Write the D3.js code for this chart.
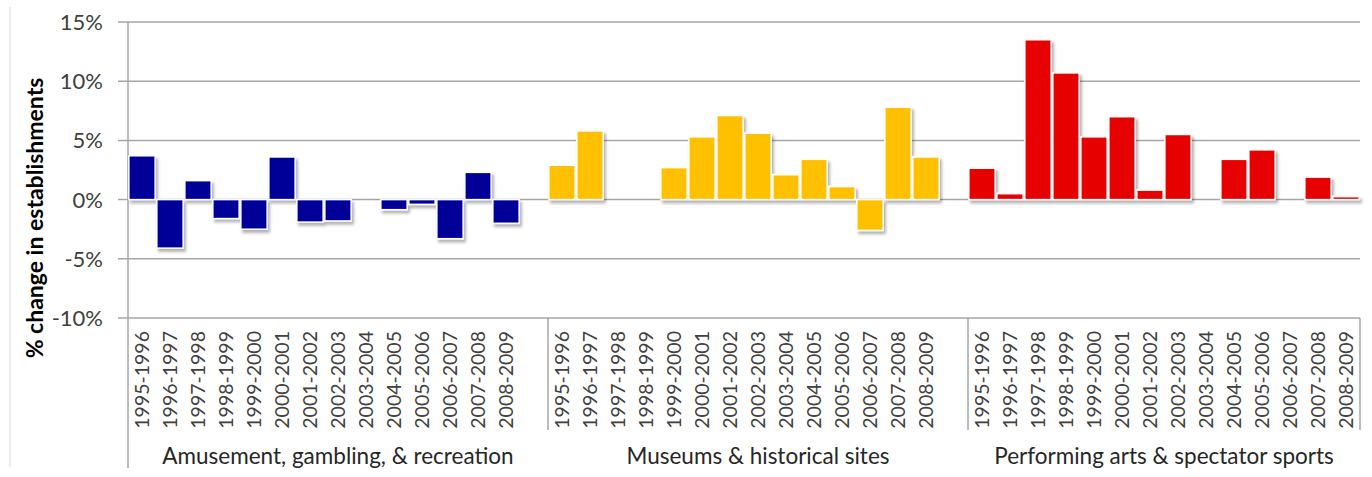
<!DOCTYPE html>
<html>
<head>
<meta charset="utf-8">
<script src="https://cdn.jsdelivr.net/npm/d3@7"></script>
<style>
  body { margin: 0; background: #fff; }
  text { font-family: Lato, "Open Sans", sans-serif; }
</style>
</head>
<body>
<div id="chart"></div>
<script>
// categories
var groups = ["Amusement, gambling, & recreation", "Museums & historical sites", "Performing arts & spectator sports"];
var periods = ["1995-1996", "1996-1997", "1997-1998", "1998-1999", "1999-2000", "2000-2001", "2001-2002",
               "2002-2003", "2003-2004", "2004-2005", "2005-2006", "2006-2007", "2007-2008", "2008-2009"];

// % change in establishments
var amusement  = [3.7, -4.1, 1.6, -1.6, -2.5, 3.6, -1.9, -1.8, 0, -0.85, -0.4, -3.3, 2.3, -2.0];
var museums    = [2.9, 5.8, 0, 0, 2.7, 5.3, 7.1, 5.6, 2.1, 3.4, 1.1, -2.6, 7.8, 3.6];
var performing = [2.65, 0.5, 13.5, 10.7, 5.3, 7.0, 0.8, 5.5, 0, 3.4, 4.2, 0, 1.9, 0.25];

var yTicks = [-10, -5, 0, 5, 10, 15];
var colors = ["#000099", "#FFC000", "#E60000"];

var width = 1372, height = 477;
var plotLeft = 128, plotRight = 1360, plotTop = 22, plotBottom = 318;

var series = [amusement, museums, performing];

// one slot per period, plus an empty slot after each group except the last
var slots = [];
groups.forEach(function(g, gi) {
    periods.forEach(function(p, pi) {
        slots.push({key: gi + "|" + p, group: gi, period: p, value: series[gi][pi]});
    });
    if (gi < groups.length - 1) slots.push({key: gi + "|blank", group: gi, period: null, value: null});
});

var x = d3.scaleBand()
    .domain(slots.map(function(d) { return d.key; }))
    .range([plotLeft, plotRight])
    .paddingInner(0.06)
    .paddingOuter(0.03);

var step = x.step();
function slotStart(k) { return x(k) - (step - x.bandwidth()) / 2; }

var y = d3.scaleLinear().domain([-10, 15]).range([plotBottom, plotTop]);

var svg = d3.select("#chart").append("svg")
    .attr("width", width)
    .attr("height", height);

var defs = svg.append("defs");
var f = defs.append("filter").attr("id", "shadow")
    .attr("x", "-20%").attr("y", "-20%").attr("width", "150%").attr("height", "150%");
f.append("feDropShadow")
    .attr("dx", 2).attr("dy", 3)
    .attr("stdDeviation", 1.8)
    .attr("flood-color", "#000")
    .attr("flood-opacity", 0.3);

// chart area border fragment on the left
svg.append("line")
    .attr("x1", 10).attr("x2", 10)
    .attr("y1", 7).attr("y2", 467)
    .attr("stroke", "#d9d9d9").attr("stroke-width", 1);

// gridlines + ticks
svg.append("g").selectAll("line")
    .data(yTicks)
    .enter().append("line")
    .attr("x1", plotLeft - 10)
    .attr("x2", plotRight)
    .attr("y1", function(d) { return y(d); })
    .attr("y2", function(d) { return y(d); })
    .attr("stroke", "#a6a6a6")
    .attr("stroke-width", 1.5);

svg.append("g").selectAll("text")
    .data(yTicks)
    .enter().append("text")
    .attr("x", plotLeft - 25)
    .attr("y", function(d) { return y(d); })
    .attr("dy", "0.36em")
    .attr("text-anchor", "end")
    .attr("font-size", "22px")
    .attr("fill", "#404040")
    .text(function(d) { return d + "%"; });

// y axis line, runs down through the category area
svg.append("line")
    .attr("x1", plotLeft).attr("x2", plotLeft)
    .attr("y1", plotTop).attr("y2", 468)
    .attr("stroke", "#a6a6a6").attr("stroke-width", 1.5);

// group separators
var groupStarts = groups.map(function(g, gi) {
    return slotStart(slots.filter(function(d) { return d.group == gi; })[0].key);
});
svg.append("g").selectAll("line")
    .data(groupStarts.slice(1).concat([plotRight]))
    .enter().append("line")
    .attr("x1", function(d) { return d; })
    .attr("x2", function(d) { return d; })
    .attr("y1", plotBottom)
    .attr("y2", 430)
    .attr("stroke", "#a6a6a6").attr("stroke-width", 1.5);

// bars
var bars = slots.filter(function(d) { return d.value; });
svg.append("g")
    .attr("filter", "url(#shadow)")
    .selectAll("rect")
    .data(bars)
    .enter().append("rect")
    .attr("x", function(d) { return x(d.key); })
    .attr("width", x.bandwidth())
    .attr("y", function(d) { return y(Math.max(0, d.value)); })
    .attr("height", function(d) { return Math.abs(y(d.value) - y(0)); })
    .attr("fill", function(d) { return colors[d.group]; })
    .attr("stroke", "#fff")
    .attr("stroke-width", 1.5);

// period labels
svg.append("g").selectAll("text")
    .data(slots.filter(function(d) { return d.period; }))
    .enter().append("text")
    .attr("transform", function(d) {
        return "translate(" + (x(d.key) + x.bandwidth() / 2) + ",331) rotate(-90)";
    })
    .attr("dy", "0.36em")
    .attr("text-anchor", "end")
    .attr("font-size", "19.5px")
    .attr("fill", "#404040")
    .text(function(d) { return d.period; });

// group labels
svg.append("g").selectAll("text")
    .data(groups)
    .enter().append("text")
    .attr("x", function(d, i) {
        var end = i < groups.length - 1 ? groupStarts[i + 1] : plotRight;
        return (groupStarts[i] + end) / 2;
    })
    .attr("y", 464)
    .attr("text-anchor", "middle")
    .attr("font-size", "22.5px")
    .attr("fill", "#262626")
    .text(function(d) { return d; });

// y title
svg.append("text")
    .attr("transform", "translate(35,218) rotate(-90)")
    .attr("dy", "0.36em")
    .attr("text-anchor", "middle")
    .attr("font-size", "23px")
    .attr("font-weight", "bold")
    .attr("fill", "#000")
    .text("% change in establishments");
</script>
</body>
</html>
